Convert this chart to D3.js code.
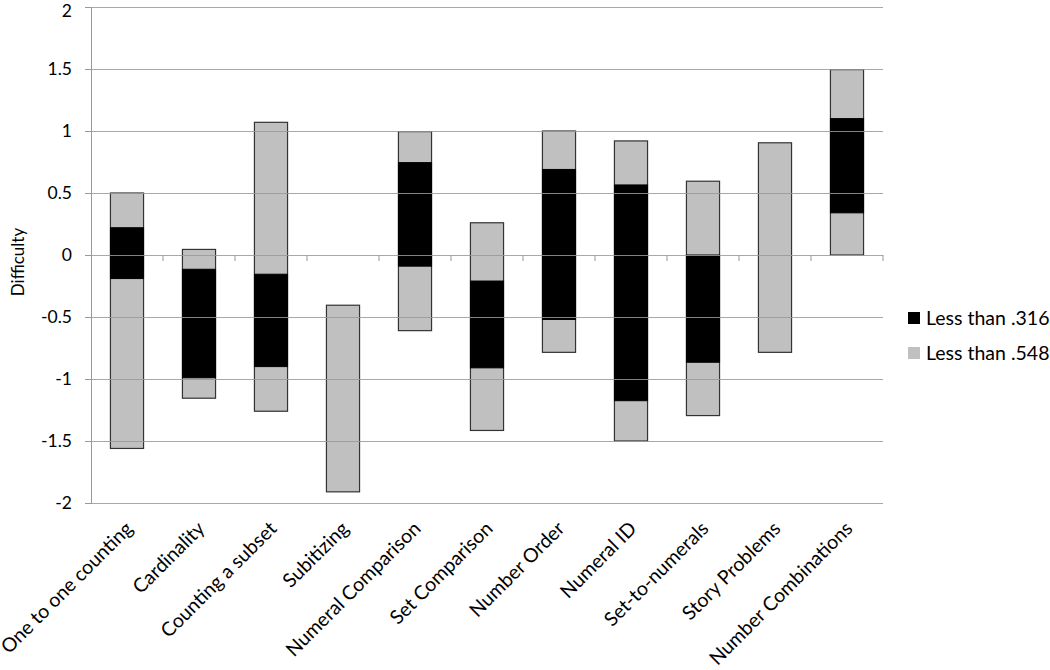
<!DOCTYPE html>
<html><head><meta charset="utf-8">
<script src="https://cdn.jsdelivr.net/npm/d3@7"></script>
<style>body{margin:0;background:#fff}svg text{font-family:Lato,"Open Sans",sans-serif;fill:#000}</style>
</head><body><svg id="c" width="1050" height="670"></svg>
<script>
const categories = ["One to one counting","Cardinality","Counting a subset","Subitizing","Numeral Comparison","Set Comparison","Number Order","Numeral ID","Set-to-numerals","Story Problems","Number Combinations"];
// "Less than .548" range (gray)
const grayLow  = [-1.56,-1.155,-1.26,-1.91,-0.61,-1.415,-0.785,-1.50,-1.295,-0.785,0.0];
const grayHigh = [0.50,0.045,1.07,-0.405,0.995,0.26,1.00,0.92,0.595,0.905,1.495];
// "Less than .316" range (black); null = none
const blackLow  = [-0.19,-0.99,-0.90,null,-0.09,-0.91,-0.52,-1.175,-0.865,null,0.34];
const blackHigh = [0.22,-0.115,-0.155,null,0.745,-0.21,0.69,0.565,0.0,null,1.10];
const yTicks = [-2,-1.5,-1,-0.5,0,0.5,1,1.5,2];
const legendLabels = ["Less than .316","Less than .548"];
const colors = ["#000000","#c0c0c0"];

const svg = d3.select("#c");
const L=91,R=883,T=7,B=503;
const x = d3.scaleBand().domain(categories).range([L,R]).paddingInner(0.54).paddingOuter(0.27);
const y = d3.scaleLinear().domain([-2,2]).range([B,T]);

// bars
const g = svg.append("g");
categories.forEach((c,i)=>{
  g.append("rect").attr("x",x(c)).attr("width",x.bandwidth())
   .attr("y",y(grayHigh[i])).attr("height",y(grayLow[i])-y(grayHigh[i]))
   .attr("fill",colors[1]).attr("stroke","#333").attr("stroke-width",1.2);
  if(blackLow[i]!==null){
    g.append("rect").attr("x",x(c)).attr("width",x.bandwidth())
     .attr("y",y(blackHigh[i])).attr("height",y(blackLow[i])-y(blackHigh[i]))
     .attr("fill",colors[0]).attr("stroke","#000").attr("stroke-width",1);
  }
});

// gridlines + y axis
const yAxis = d3.axisLeft(y).tickValues(yTicks).tickSize(6).tickFormat(d=>String(d));
const ya = svg.append("g").attr("transform",`translate(${L},0)`).call(yAxis);
ya.select(".domain").attr("stroke","#999");
ya.selectAll(".tick line").attr("stroke","#999");
ya.selectAll(".tick text").attr("x",-19).attr("font-size",17.5).attr("fill","#000")
  .attr("dy",d=>d===2?"0.55em":"0.32em");
svg.append("g").selectAll("line").data(yTicks).join("line")
  .attr("x1",L).attr("x2",R).attr("y1",d=>Math.round(y(d))+0.5).attr("y2",d=>Math.round(y(d))+0.5)
  .attr("stroke","#999").attr("stroke-width",1).attr("opacity",0.85);

// x axis ticks on zero line
const xTickPos = d3.range(categories.length+1).map(i=>L+i*(R-L)/categories.length);
svg.append("g").selectAll("line").data(xTickPos.slice(1)).join("line")
  .attr("x1",d=>d).attr("x2",d=>d).attr("y1",y(0)).attr("y2",y(0)+6)
  .attr("stroke","#999");

// x labels
svg.append("g").selectAll("text").data(categories).join("text")
  .attr("transform",d=>`translate(${x(d)+x.bandwidth()/2+2},${525}) rotate(-45)`)
  .attr("text-anchor","end").attr("dy","0.35em").attr("font-size",19.5).text(d=>d);

// y title
svg.append("text").attr("transform",`translate(24,${262}) rotate(-90)`)
  .attr("text-anchor","middle").attr("font-size",17).text("Difficulty");

// legend
const lg = svg.append("g");
legendLabels.forEach((t,i)=>{
  const yy = 312 + i*35;
  lg.append("rect").attr("x",908).attr("y",yy).attr("width",12).attr("height",12).attr("fill",colors[i]);
  lg.append("text").attr("x",926).attr("y",yy+12.5).attr("font-size",19.5).text(t);
});
</script></body></html>
